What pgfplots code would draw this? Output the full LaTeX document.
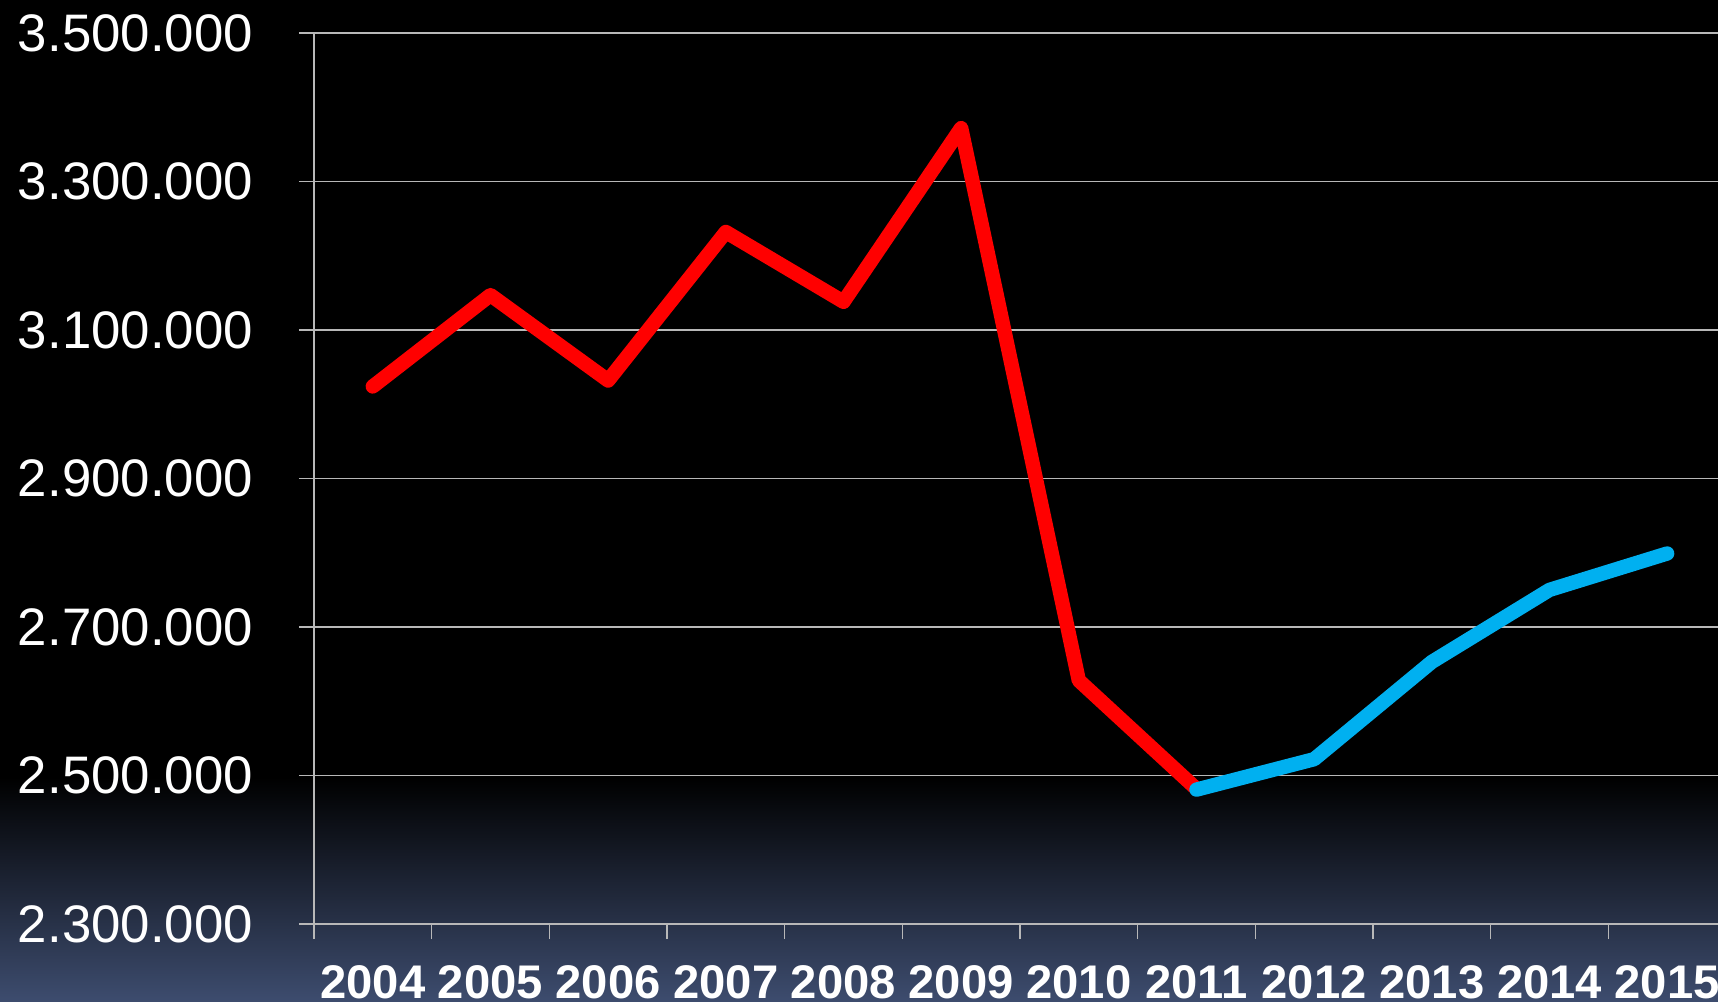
\documentclass[border=0pt]{standalone}
\usepackage{fontspec}
\setmainfont{Liberation Sans}
\usepackage{pgfplots}
\pgfplotsset{compat=1.18}
\definecolor{bgblue}{HTML}{3D4C6E}
\definecolor{gridgrey}{HTML}{B8B8B8}
\definecolor{lred}{HTML}{FF0000}
\definecolor{lblue}{HTML}{00B0F0}
\begin{document}
\begin{tikzpicture}
\useasboundingbox (0,0) rectangle (429.5pt,250.25pt);
\fill[black] (0,0) rectangle (429.5pt,250.25pt);
\shade[top color=black,bottom color=bgblue] (0,0) rectangle (429.5pt,56pt);
\clip (0,0) rectangle (429.5pt,250.25pt);
\begin{axis}[
    at={(78.5pt,19.25pt)}, anchor=south west,
    scale only axis, width=353pt, height=222.75pt,
    axis lines=left, axis line style={-, gridgrey, line width=0.4pt},
    xmin=-0.5, xmax=11.5,
    ymin=2300000, ymax=3500000,
    xtick={0,...,11},
    xticklabels={2004,2005,2006,2007,2008,2009,2010,2011,2012,2013,2014,2015},
    minor xtick={-0.5,0.5,...,11.5},
    major x tick style={draw=none},
    minor x tick style={gridgrey, line width=0.4pt},
    minor tick length=3.75pt,
    ytick={2300000,2500000,...,3500000},
    ymajorgrids, major grid style={gridgrey, line width=0.4pt},
    major y tick style={gridgrey, line width=0.4pt},
    major tick length=3.75pt,
    tick align=outside,
    scaled y ticks=false,
    yticklabel style={/pgf/number format/fixed, /pgf/number format/1000 sep={.}, /pgf/number format/assume math mode=true},
    yticklabel style={font=\fontsize{13.2}{15}\selectfont, text=white, xshift=-8pt},
    xticklabel style={font=\fontsize{11.8}{14}\selectfont\bfseries, text=white, yshift=-3pt},
    clip=false,
  ]
  \addplot[lred, line width=3.6pt, line join=round, line cap=round] coordinates {
    (0,3024000) (1,3147000) (2,3032000) (3,3232000) (4,3138000)
    (5,3372000) (6,2628000) (7,2482000)
  };
  \addplot[lblue, line width=3.6pt, line join=round, line cap=round] coordinates {
    (7,2481000) (8,2522000) (9,2653000) (10,2750000) (11,2799000)
  };
\end{axis}
\end{tikzpicture}
\end{document}
